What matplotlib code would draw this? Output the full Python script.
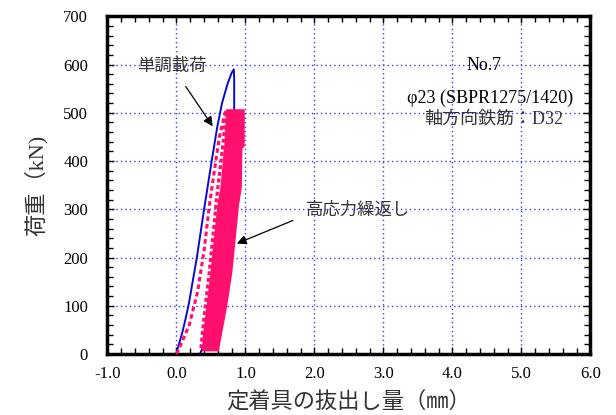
import numpy as np
import matplotlib.pyplot as plt
from matplotlib.ticker import MultipleLocator

plt.rcParams['font.family'] = ['Liberation Serif', 'Noto Sans CJK JP']

# monotonic loading curve (displacement mm, load kN)
mono_x = [-0.005, 0.087, 0.13, 0.18, 0.295, 0.40, 0.51, 0.59, 0.66, 0.74, 0.80, 0.831, 0.836, 0.836, 0.40, 0.34]
mono_y = [0, 46, 72, 105, 200, 300, 400, 470, 520, 560, 583, 590, 570, 507, 20, 0]

# first loading of the repeated test (dashed)
first_x = [0.0, 0.04, 0.185, 0.306, 0.404, 0.477, 0.55, 0.622, 0.695, 0.72]
first_y = [0, 12, 60, 129, 219, 309, 381, 450, 495, 505]
second_x = [0.355, 0.404, 0.477, 0.55, 0.574, 0.612, 0.67, 0.72]
second_y = [12, 81, 171, 274, 312, 360, 430, 500]

# envelope of the high-stress repeated loops
band_y = [8, 46, 102, 171, 240, 309, 347, 402, 428, 432, 471, 507]
band_left = [0.37, 0.39, 0.44, 0.495, 0.545, 0.595, 0.64, 0.675, 0.69, 0.695, 0.71, 0.72]
band_right = [0.598, 0.647, 0.72, 0.793, 0.841, 0.889, 0.93, 0.935, 0.94, 0.972, 0.972, 0.972]

pink = '#ff0f6e'
blue = '#0a0ad0'

fig = plt.figure(figsize=(6.16, 4.15), dpi=100)
ax = fig.add_axes([0.1745, 0.1470, 0.7841, 0.8137])

ax.plot(mono_x, mono_y, color=blue, lw=1.4, zorder=2)
ax.fill_betweenx(band_y, band_left, band_right, color=pink, lw=1.0, zorder=3)
ax.plot(first_x, first_y, color=pink, lw=2.2, ls=(0, (1.5, 1)), zorder=3)
ax.plot(second_x, second_y, color=pink, lw=2.4, ls=(0, (1.2, 0.8)), zorder=3)

ax.set_xlim(-1, 6)
ax.set_ylim(0, 700)
ax.xaxis.set_major_locator(MultipleLocator(1))
ax.xaxis.set_minor_locator(MultipleLocator(0.2))
ax.yaxis.set_major_locator(MultipleLocator(100))
ax.yaxis.set_minor_locator(MultipleLocator(20))
ax.set_xticks(np.arange(-1, 7, 1))
ax.set_xticklabels(['%.1f' % v for v in np.arange(-1, 7, 1)])

ax.tick_params(which='both', direction='in', top=True, right=True, labelsize=12, width=1.0)
ax.tick_params(which='major', length=5)
ax.tick_params(which='minor', length=4)
ax.tick_params(axis='x', pad=9)
ax.tick_params(axis='y', pad=14)
for s in ax.spines.values():
    s.set_linewidth(2.5)

ax.grid(True, which='major', color='#3a3aff', ls=(0, (1, 2.2)), lw=1.0)
ax.set_axisbelow(True)

ax.set_xlabel('定着具の抜出し量（㎜）', fontsize=16, color='#333333', labelpad=6)
ax.set_ylabel('荷重（kN)', fontsize=16, color='#333333', labelpad=11)

ax.annotate('単調載荷', xy=(0.525, 472), xytext=(-0.063, 596), fontsize=12.5,
            color='#333333', ha='center', va='center',
            arrowprops=dict(arrowstyle='-|>', color='black', lw=0.9,
                            shrinkA=8, shrinkB=0, mutation_scale=14))
ax.annotate('高応力繰返し', xy=(0.875, 229), xytext=(2.63, 298), fontsize=12.5,
            color='#333333', ha='center', va='center',
            arrowprops=dict(arrowstyle='-|>', color='black', lw=0.9,
                            shrinkA=8, shrinkB=0, mutation_scale=14,
                            relpos=(0.0, 0.2)))

ax.text(4.46, 597, 'No.7', fontsize=13, ha='center', va='center')
ax.text(4.54, 530, 'φ23 (SBPR1275/1420)', fontsize=13, ha='center', va='center')
ax.text(4.60, 486, '軸方向鉄筋：D32', fontsize=13, ha='center', va='center', color='#333333')

fig.savefig('out.png', dpi=100)
